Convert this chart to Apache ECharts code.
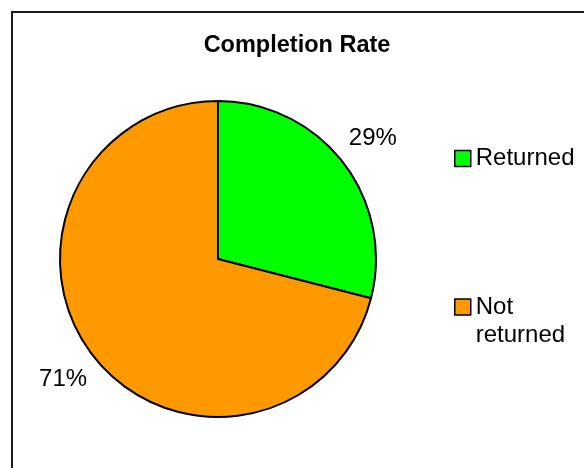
<!DOCTYPE html>
<html>
<head>
<meta charset="utf-8">
<style>
  html, body { margin: 0; padding: 0; background: #fff; }
  #chart { width: 584px; height: 468px; }
</style>
<script src="https://cdn.jsdelivr.net/npm/echarts@6/dist/echarts.min.js"></script>
</head>
<body>
<div id="chart"></div>
<script>
// Questionnaire completion data
const categories = ['Returned', 'Not returned'];
const shares = [29, 71];
const sliceColors = ['#00FF00', '#FF9900'];

const FONT = '"Liberation Sans", Arial, sans-serif';

const chart = echarts.init(document.getElementById('chart'), null, { renderer: 'canvas' });

const pieData = categories.map((name, i) => ({
  name: name,
  value: shares[i],
  itemStyle: { color: sliceColors[i] }
}));

// Wrap two-word legend names; a leading blank line keeps the first
// line level with the swatch, since the swatch sits at the text's middle.
function legendText(name) {
  return name.indexOf(' ') >= 0 ? '\n' + name.replace(' ', '\n') : name;
}

chart.setOption({
  animation: false,
  backgroundColor: '#ffffff',
  title: {
    text: 'Completion Rate',
    left: 297,
    top: 34,
    padding: 0,
    textAlign: 'center',
    textStyle: { fontFamily: FONT, fontSize: 23.5, fontWeight: 'bold', color: '#000' }
  },
  legend: {
    orient: 'vertical',
    left: 454,
    top: 144.5,
    padding: 0,
    itemGap: 92.5,
    itemWidth: 16,
    itemHeight: 16,
    icon: 'rect',
    selectedMode: false,
    itemStyle: { borderColor: '#000', borderWidth: 1.5 },
    formatter: legendText,
    textStyle: { fontFamily: FONT, fontSize: 24, lineHeight: 28, color: '#000' },
    data: categories
  },
  graphic: [{
    type: 'rect',
    silent: true,
    shape: { x: 12, y: 12, width: 800, height: 800 },
    style: { fill: 'none', stroke: '#1a1a1a', lineWidth: 2 }
  }],
  series: [{
    type: 'pie',
    center: [218, 259],
    radius: 158,
    startAngle: 90,
    clockwise: true,
    avoidLabelOverlap: false,
    emphasis: { disabled: true },
    itemStyle: { borderColor: '#000', borderWidth: 2 },
    label: {
      show: true,
      position: 'outside',
      formatter: '{c}%',
      distanceToLabelLine: 0,
      fontFamily: FONT,
      fontSize: 24,
      color: '#000'
    },
    labelLine: { show: false, length: 38, length2: 0 },
    labelLayout: () => ({ align: 'center', verticalAlign: 'middle' }),
    data: pieData
  }]
});
</script>
</body>
</html>
